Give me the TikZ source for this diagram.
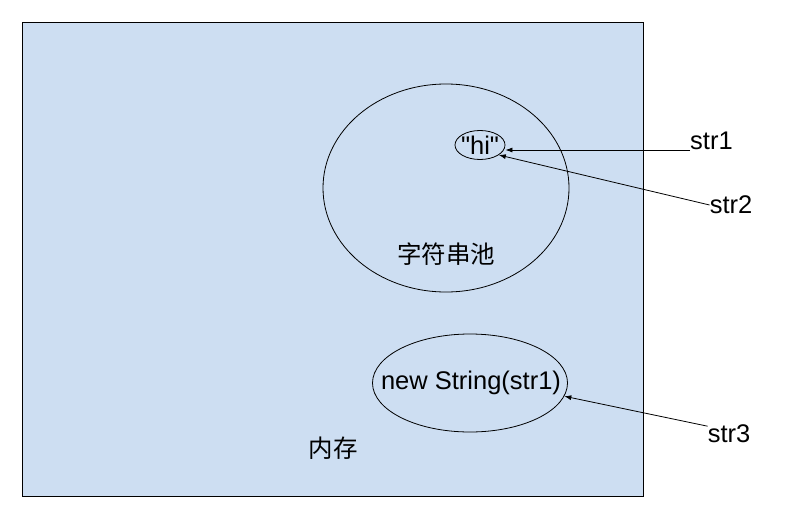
\documentclass[tikz,border=0pt]{standalone}
\usepackage{fontspec}
\setmainfont{Liberation Sans}[Ligatures=TeXOff]
\newfontfamily\cjk{Noto Sans CJK SC}
\usepackage{tikz}
\usetikzlibrary{arrows.meta, shapes.geometric}
\usepackage{xcolor}
\definecolor{memblue}{RGB}{205,222,242}

\begin{document}
\begin{tikzpicture}[x=1pt, y=-1pt,
    lbl/.style={inner sep=0pt, font=\fontsize{25.5}{28}\selectfont},
    cjklbl/.style={inner sep=0pt, font=\cjk\fontsize{24.5}{27}\selectfont},
    oval/.style={draw, ellipse, line width=0.8pt, inner sep=0pt},
    ref/.style={-{Latex[length=7pt, width=5pt]}, line width=0.8pt}]
  \useasboundingbox (0,0) rectangle (792,522);
  % Memory area
  \draw[fill=memblue, line width=0.9pt] (22,22) rectangle (643,496);
  \node[cjklbl] (mem) at (333,448) {内存};
  % String pool
  \node[oval, minimum width=246pt, minimum height=208pt] (pool) at (446,188) {};
  \node[cjklbl] (poollbl) at (446,254) {字符串池};
  \node[oval, minimum width=50pt, minimum height=29pt] (hi) at (480,145) {};
  \node[lbl] (hitxt) at (480,145) {"hi"};
  % Heap object
  \node[oval, minimum width=195pt, minimum height=98pt] (heap) at (470,383) {};
  \node[lbl] (heaptxt) at (471,383) {new String(str1)};
  % References
  \node[lbl, anchor=south west] (str1) at (690,150) {str1};
  \node[lbl] (str2) at (731,205) {str2};
  \node[lbl] (str3) at (729,434) {str3};
  \draw[ref] (str1.south west) -- (hi.east |- str1.south west);
  \draw[ref] (str2.west) -- (hi.-28);
  \draw[ref] (str3.160) -- (heap.-8);
\end{tikzpicture}
\end{document}
